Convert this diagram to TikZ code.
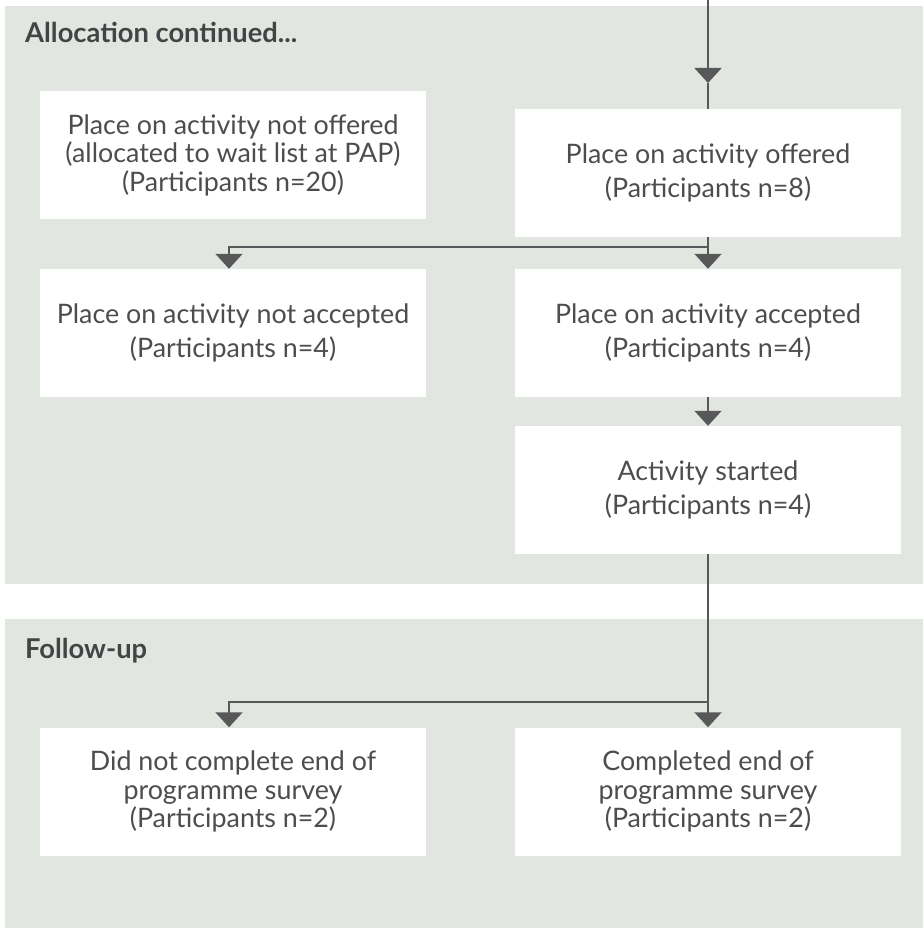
\documentclass[tikz,border=0pt]{standalone}
\usepackage{fontspec}
\setmainfont{Lato}
\usetikzlibrary{arrows.meta}
\definecolor{panelbg}{HTML}{E1E6E0}
\definecolor{bodytext}{HTML}{4D4D4F}
\definecolor{headtext}{HTML}{444446}
\definecolor{flowline}{HTML}{58585A}
\newlength\probewidth
\newlength\bodylen
\newlength\headlen
\begin{document}
% size the body and heading type from the widths of two sample strings
\bodylen=25.6pt
\headlen=24pt
\settowidth\probewidth{\fontsize{10pt}{12pt}\selectfont Place on activity not offered}%
\ifdim\probewidth>10pt \pgfmathsetlength\bodylen{331/\probewidth*10}\fi
\settowidth\probewidth{\fontsize{10pt}{12pt}\selectfont\bfseries Allocation continued...}%
\ifdim\probewidth>10pt \pgfmathsetlength\headlen{272/\probewidth*10}\fi
\begin{tikzpicture}[x=1pt,y=-1pt]
\tikzset{
  panel/.style={fill=panelbg},
  box/.style={fill=white, minimum width=386pt, minimum height=128pt, inner sep=0pt,
    align=center, text=bodytext, font=\fontsize{\bodylen}{34pt}\selectfont},
  tightbox/.style={box, font=\fontsize{\bodylen}{28.5pt}\selectfont},
  heading/.style={anchor=base west, inner sep=0pt, text=headtext,
    font=\fontsize{\headlen}{\headlen}\selectfont\bfseries},
  flow/.style={draw=flowline, line width=1.8pt},
  head/.tip={Triangle[width=27pt, length=15pt, fill=flowline]},
}
\useasboundingbox (0,0) rectangle (923,928);
% section backgrounds
\fill[panel] (5,6) rectangle (923,584);
\fill[panel] (5,619) rectangle (923,928);
\node[heading] (allocTitle) at (25,43) {Allocation continued...};
\node[heading] (followTitle) at (25,658) {Follow-up};
% boxes
\node[tightbox] (notOffered) at (233,155) {Place on activity not offered\\(allocated to wait list at PAP)\\(Participants n=20)};
\node[box] (offered) at (708,173) {Place on activity offered\\(Participants n=8)};
\node[box] (notAccepted) at (233,333) {Place on activity not accepted\\(Participants n=4)};
\node[box] (accepted) at (708,333) {Place on activity accepted\\(Participants n=4)};
\node[box] (started) at (708,490) {Activity started\\(Participants n=4)};
\node[tightbox] (notCompleted) at (233,791.5) {Did not complete end of\\programme survey\\(Participants n=2)};
\node[tightbox] (completed) at (708,791.5) {Completed end of\\programme survey\\(Participants n=2)};
% connectors
\coordinate (inflow) at (708,0);
\coordinate (inflowTip) at (708,83);
\draw[flow, -{head}] (inflow) -- (inflowTip);
\draw[flow] (inflowTip) -- (offered.north);
\draw[flow, -{head}] (offered.south) -- (accepted.north);
\draw[flow, -{head}] (offered.south) -- ++(0,10) -| ([xshift=-4pt]notAccepted.north);
\draw[flow, -{head}] (accepted.south) -- (started.north);
\draw[flow, -{head}] (started.south) -- (completed.north);
\draw[flow, -{head}] (started.south) |- (471,702) -| ([xshift=-4pt]notCompleted.north);
\end{tikzpicture}
\end{document}
